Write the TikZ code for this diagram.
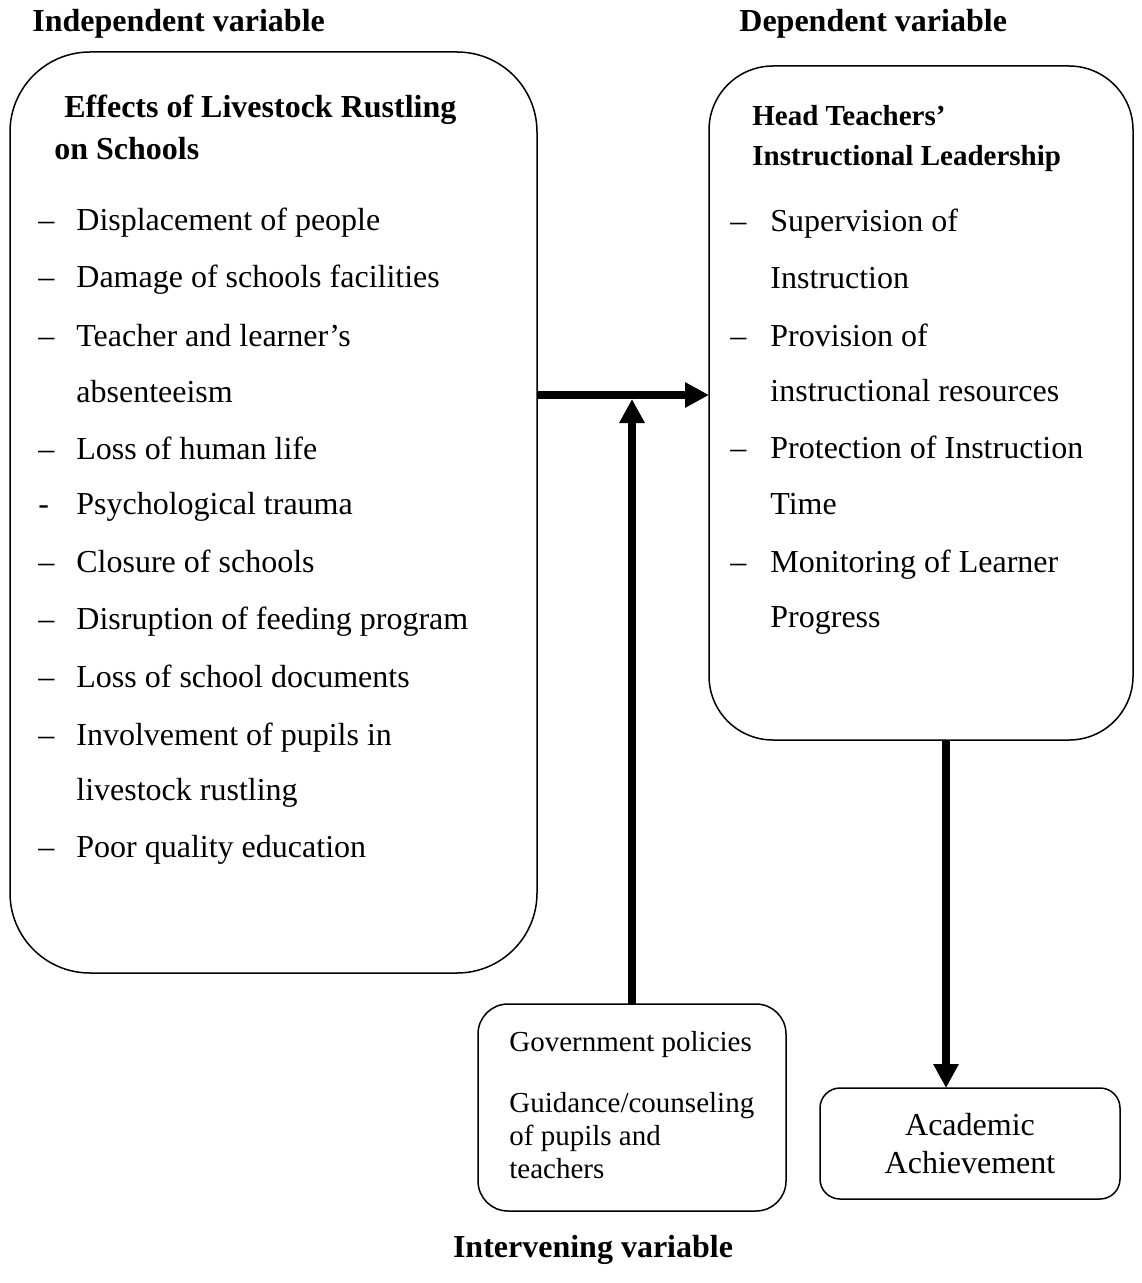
\documentclass[tikz,border=0pt]{standalone}
\usepackage{fontspec}
\setmainfont{Liberation Serif}
\usetikzlibrary{arrows.meta}
\tikzset{
  box/.style={draw, line width=0.75pt, inner sep=0pt, outer sep=0pt},
  item/.style={anchor=base west, inner sep=0pt, font=\fontsize{16}{19}\selectfont},
  head/.style={item, font=\fontsize{16}{19}\selectfont\bfseries},
  subhead/.style={item, font=\fontsize{14.5}{17}\selectfont\bfseries},
  small/.style={item, font=\fontsize{14.5}{17}\selectfont},
  flow/.style={line width=4pt, -{Triangle[length=12pt,width=12pt]}},
}

\begin{document}
\begin{tikzpicture}[x=0.5pt, y=-0.5pt]
\useasboundingbox (0,0) rectangle (1141,1283);
% boxes
\node[box, rounded corners=40pt, minimum width=263.5pt, minimum height=460.5pt] (effects) at (273.5,512.5) {};
\node[box, rounded corners=32pt, minimum width=212pt, minimum height=337pt] (leader) at (921,403) {};
\node[box, rounded corners=15pt, minimum width=154pt, minimum height=103.5pt] (policy) at (632,1107.5) {};
\node[box, rounded corners=10pt, minimum width=150pt, minimum height=55.5pt] (achieve) at (970,1143.5) {};
% variable labels
\node[head] (indep) at (32,32) {Independent variable};
\node[head] (dep) at (739,32) {Dependent variable};
\node[head, anchor=base] (interv) at (593,1257) {Intervening variable};
% independent variable
\node[head] (eh1) at (64,118) {Effects of Livestock Rustling};
\node[head] (eh2) at (54,160) {on Schools};
\foreach \y/\d/\t in {231/--/Displacement of people, 288/--/Damage of schools facilities,
  346/--/Teacher and learner’s, 402//absenteeism, 459/--/Loss of human life,
  514/-/Psychological trauma, 572/--/Closure of schools, 629/--/Disruption of feeding program,
  687/--/Loss of school documents, 745/--/Involvement of pupils in, 800//livestock rustling,
  857/--/Poor quality education}
{
  \node[item] (ed\y) at (38,\y) {\d};
  \node[item] (e\y) at (76,\y) {\t};
}
% dependent variable
\node[subhead] (lh1) at (752,126) {Head Teachers’};
\node[subhead] (lh2) at (752,166) {Instructional Leadership};
\foreach \y/\d/\t in {232/--/Supervision of, 289//Instruction, 346/--/Provision of,
  401//instructional resources, 458/--/Protection of Instruction, 514//Time,
  572/--/Monitoring of Learner, 627//Progress}
{
  \node[item] (ld\y) at (730,\y) {\d};
  \node[item] (l\y) at (770,\y) {\t};
}
% intervening variable
\node[small] (p1) at (509,1051) {Government policies};
\node[small] (p2) at (509,1112) {Guidance/counseling};
\node[small] (p3) at (509,1145) {of pupils and};
\node[small] (p4) at (509,1178) {teachers};
% outcome
\node[item, anchor=center, align=center] (ach) at (achieve) {Academic\\[0pt]Achievement};
% arrows
\coordinate (join) at (632,395);
\draw[flow] (join -| effects.east) -- (join -| leader.west);
\draw[flow] (policy.north) -- ([yshift=-2pt]join);
\draw[flow] ([xshift=12.5pt]leader.south) -- ([xshift=12.5pt]leader.south |- achieve.north);
\end{tikzpicture}
\end{document}
